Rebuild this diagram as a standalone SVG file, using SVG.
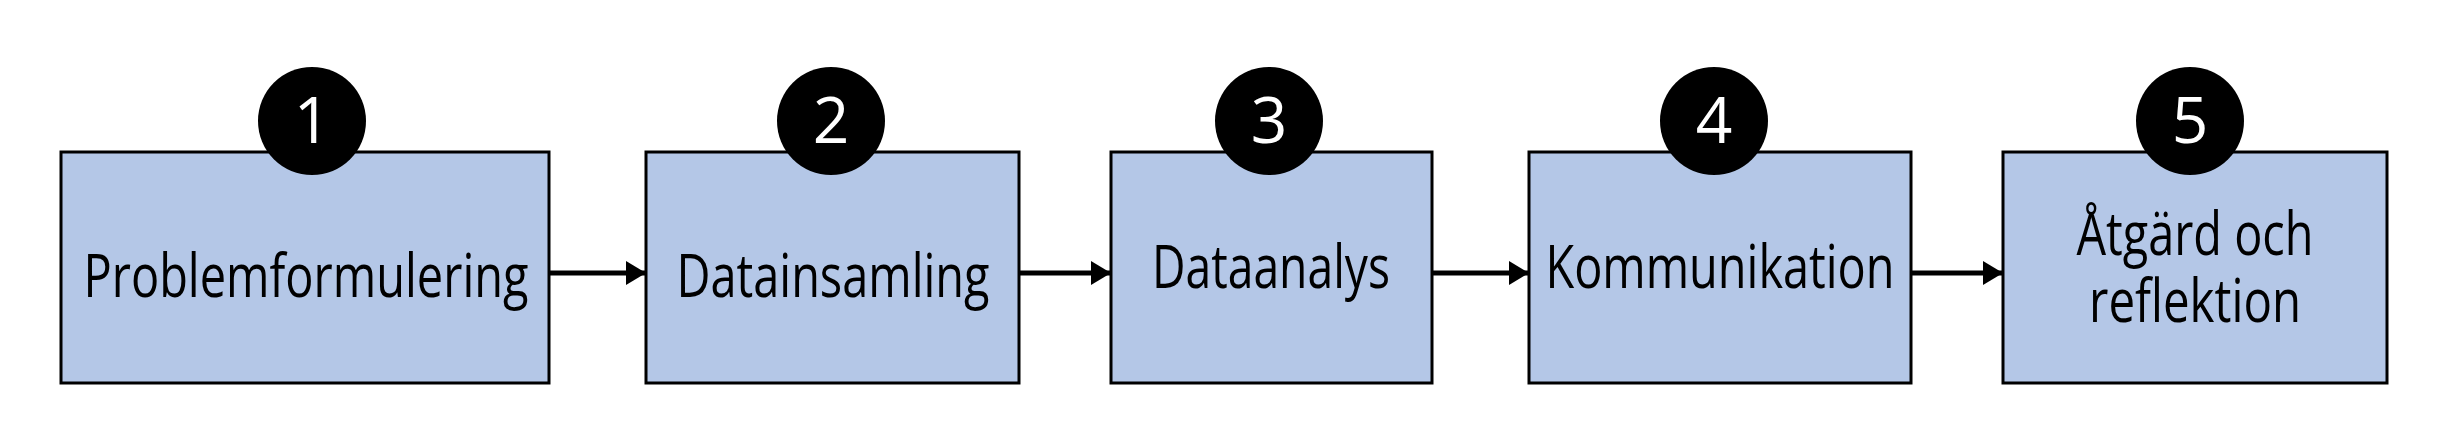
<svg xmlns="http://www.w3.org/2000/svg" width="2441" height="432" viewBox="0 0 2441 432">
<style>
.box{fill:#b4c7e7;stroke:#000;stroke-width:3}
.lbl{font-family:"Open Sans","Liberation Sans",sans-serif;font-size:60px;fill:#000;text-anchor:middle}
.num{font-family:"Open Sans","Liberation Sans",sans-serif;font-size:64px;fill:#fff;text-anchor:middle}
.conn line{stroke:#000;stroke-width:5}
</style>
<defs>
<marker id="ah" markerUnits="userSpaceOnUse" markerWidth="20" markerHeight="24" refX="19" refY="12" orient="auto"><path d="M0,0 L20,12 L0,24 Z" fill="#000"/></marker>
</defs>
<rect width="2441" height="432" fill="#fff"/>
<g id="node1"><rect class="box" x="61" y="152" width="488" height="231"/><circle cx="312" cy="121" r="54"/><text class="num" x="312" y="143">1</text><text class="lbl" x="306" y="297" textLength="445" lengthAdjust="spacingAndGlyphs">Problemformulering</text></g>
<g id="node2"><rect class="box" x="646" y="152" width="373" height="231"/><circle cx="831" cy="121" r="54"/><text class="num" x="831" y="143">2</text><text class="lbl" x="833" y="297" textLength="313" lengthAdjust="spacingAndGlyphs">Datainsamling</text></g>
<g id="node3"><rect class="box" x="1111" y="152" width="321" height="231"/><circle cx="1269" cy="121" r="54"/><text class="num" x="1269" y="143">3</text><text class="lbl" x="1271" y="288" textLength="238" lengthAdjust="spacingAndGlyphs">Dataanalys</text></g>
<g id="node4"><rect class="box" x="1529" y="152" width="382" height="231"/><circle cx="1714" cy="121" r="54"/><text class="num" x="1714" y="143">4</text><text class="lbl" x="1720" y="288" textLength="349" lengthAdjust="spacingAndGlyphs">Kommunikation</text></g>
<g id="node5"><rect class="box" x="2003" y="152" width="384" height="231"/><circle cx="2190" cy="121" r="54"/><text class="num" x="2190" y="143">5</text><text class="lbl" x="2195" y="255" textLength="237" lengthAdjust="spacingAndGlyphs">Åtgärd och</text><text class="lbl" x="2195" y="322" textLength="212" lengthAdjust="spacingAndGlyphs">reflektion</text></g>
<g id="connectors" class="conn">
<line x1="550" y1="273" x2="645" y2="273" marker-end="url(#ah)"/>
<line x1="1020" y1="273" x2="1110" y2="273" marker-end="url(#ah)"/>
<line x1="1433" y1="273" x2="1528" y2="273" marker-end="url(#ah)"/>
<line x1="1912" y1="273" x2="2002" y2="273" marker-end="url(#ah)"/>
</g>
</svg>
